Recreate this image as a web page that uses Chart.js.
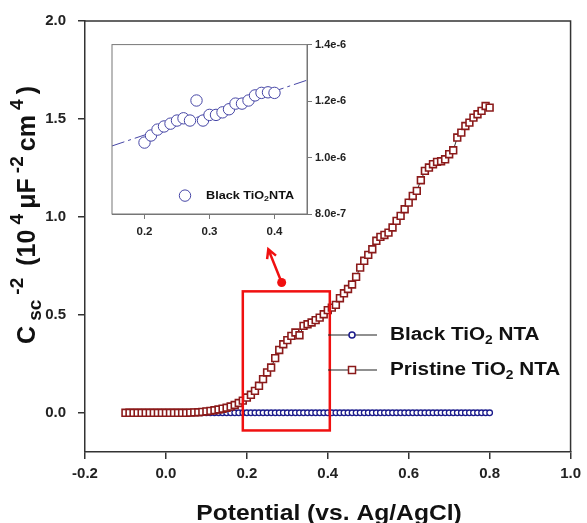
<!DOCTYPE html>
<html>
<head>
<meta charset="utf-8">
<script src="https://cdn.jsdelivr.net/npm/chart.js@4.4.1/dist/chart.umd.min.js"></script>
<style>
body{margin:0;background:#fff;}
#wrap{position:relative;width:587px;height:523px;overflow:hidden;}
#mainChart{position:absolute;left:0;top:0;}
#insetChart{position:absolute;left:100px;top:35px;}
</style>
</head>
<body>
<div id="wrap">
<canvas id="mainChart" width="587" height="523"></canvas>
<canvas id="insetChart" width="250" height="210"></canvas>
</div>
<script>

// ------------------------------
// Data (main plot)
// ------------------------------

const potential = [
-0.10,-0.09,-0.08,-0.07,-0.06,-0.05,-0.04,-0.03,-0.02,-0.01,
0.00,0.01,0.02,0.03,0.04,0.05,0.06,0.07,0.08,0.09,
0.10,0.11,0.12,0.13,0.14,0.15,0.16,0.17,0.18,0.19,
0.20,0.21,0.22,0.23,0.24,0.25,0.26,0.27,0.28,0.29,
0.30,0.31,0.32,0.33,0.34,0.35,0.36,0.37,0.38,0.39,
0.40,0.41,0.42,0.43,0.44,0.45,0.46,0.47,0.48,0.49,
0.50,0.51,0.52,0.53,0.54,0.55,0.56,0.57,0.58,0.59,
0.60,0.61,0.62,0.63,0.64,0.65,0.66,0.67,0.68,0.69,
0.70,0.71,0.72,0.73,0.74,0.75,0.76,0.77,0.78,0.79,
0.80
];

const pristine = [
0,0,0,0,0,0,0,0,0,0,
0,0,0,0,0,0,0.001,0.002,0.003,0.005,
0.007,0.010,0.013,0.017,0.021,0.026,0.032,0.040,0.050,0.062,
0.078,0.092,0.112,0.138,0.172,0.206,0.231,0.279,0.321,0.350,
0.371,0.393,0.410,0.396,0.444,0.452,0.461,0.473,0.486,0.503,
0.524,0.537,0.551,0.585,0.610,0.632,0.655,0.694,0.741,0.776,
0.806,0.835,0.878,0.898,0.908,0.920,0.946,0.980,1.005,1.039,
1.073,1.107,1.133,1.187,1.235,1.252,1.269,1.281,1.284,1.294,
1.320,1.340,1.405,1.430,1.464,1.481,1.507,1.524,1.541,1.566,
1.558
];

const black = [
0,0,0,0,0,0,0,0,0,0,
0,0,0,0,0,0,0,0,0,0,
0,0,0,0,0,0,0,0,0,0,
0,0,0,0,0,0,0,0,0,0,
0,0,0,0,0,0,0,0,0,0,
0,0,0,0,0,0,0,0,0,0,
0,0,0,0,0,0,0,0,0,0,
0,0,0,0,0,0,0,0,0,0,
0,0,0,0,0,0,0,0,0,0,
0
];

const xTicks = [-0.2,0.0,0.2,0.4,0.6,0.8,1.0];
const yTicks = [0.0,0.5,1.0,1.5,2.0];

// zoom box and arrow (data units)
const boxX = [0.19,0.405];
const boxY = [-0.09,0.62];
const arrowX = [0.286,0.253];
const arrowY = [0.665,0.835];

// ------------------------------
// Data (inset)
// ------------------------------

const insetPotential = [
0.20,0.21,0.22,0.23,0.24,0.25,0.26,0.27,0.28,0.29,
0.30,0.31,0.32,0.33,0.34,0.35,0.36,0.37,0.38,0.39,0.40
];

const insetBlack = [
1.053e-6,1.078e-6,1.099e-6,1.110e-6,1.120e-6,1.131e-6,1.139e-6,1.131e-6,1.202e-6,1.131e-6,
1.151e-6,1.151e-6,1.160e-6,1.171e-6,1.191e-6,1.191e-6,1.202e-6,1.220e-6,1.229e-6,1.231e-6,1.229e-6
];

const fitX = [0.15,0.45];
const fitY = [1.041e-6,1.274e-6];

const insetXTicks = [0.2,0.3,0.4];
const insetYTicks = [8.0e-7,1.0e-6,1.2e-6,1.4e-6];

// ------------------------------
// Helpers
// ------------------------------

const FAMILY = "'Liberation Sans', Arial, sans-serif";

function toPoints(xs, ys){
    return xs.map(function(x, i){
        return {x: x, y: ys[i]};
    });
}

// parts: [text, "n" | "sub" | "sup"]
function richWidth(ctx, parts, size, ratio){
    let w = 0;
    parts.forEach(function(p){
        const s = p[1] === "n" ? size : Math.round(size * ratio);
        ctx.font = "bold " + s + "px " + FAMILY;
        w += ctx.measureText(p[0]).width;
    });
    return w;
}

function drawRich(ctx, parts, x, y, size, ratio, gap){
    let cx = x;
    ratio = ratio || 0.68;
    gap = gap || 0;
    parts.forEach(function(p){
        const s = p[1] === "n" ? size : Math.round(size * ratio);
        ctx.font = "bold " + s + "px " + FAMILY;
        let dy = 0;
        if(p[1] === "sub") dy = size * 0.32;
        if(p[1] === "sup") dy = -size * 0.4;
        ctx.fillText(p[0], cx, y + dy);
        cx += ctx.measureText(p[0]).width + gap;
    });
}

// ------------------------------
// Main chart extras
// ------------------------------

const mainExtras = {
    id: "mainExtras",
    afterDatasetsDraw: function(chart){
        const ctx = chart.ctx;
        const xs = chart.scales.x;
        const ys = chart.scales.y;
        const a = chart.chartArea;

        ctx.save();

        // red zoom box
        ctx.strokeStyle = "#f01010";
        ctx.lineWidth = 2.5;
        ctx.strokeRect(
            xs.getPixelForValue(boxX[0]),
            ys.getPixelForValue(boxY[1]),
            xs.getPixelForValue(boxX[1]) - xs.getPixelForValue(boxX[0]),
            ys.getPixelForValue(boxY[0]) - ys.getPixelForValue(boxY[1])
        );

        // arrow
        const x0 = xs.getPixelForValue(arrowX[0]);
        const y0 = ys.getPixelForValue(arrowY[0]);
        const x1 = xs.getPixelForValue(arrowX[1]);
        const y1 = ys.getPixelForValue(arrowY[1]);
        const ang = Math.atan2(y1 - y0, x1 - x0);

        ctx.fillStyle = "#f01010";
        ctx.beginPath();
        ctx.arc(x0, y0, 4.5, 0, Math.PI * 2);
        ctx.fill();

        ctx.beginPath();
        ctx.moveTo(x0, y0);
        ctx.lineTo(x1, y1);
        ctx.moveTo(x1 - 10 * Math.cos(ang - 0.5), y1 - 10 * Math.sin(ang - 0.5));
        ctx.lineTo(x1, y1);
        ctx.lineTo(x1 - 10 * Math.cos(ang + 0.5), y1 - 10 * Math.sin(ang + 0.5));
        ctx.stroke();

        // legend
        const rows = [
            {y: a.top + 314, color: "#1c1c8c", shape: "circle",
             parts: [["Black TiO","n"],["2","sub"],[" NTA","n"]]},
            {y: a.top + 349, color: "#8b1a1a", shape: "rect",
             parts: [["Pristine TiO","n"],["2","sub"],[" NTA","n"]]}
        ];

        rows.forEach(function(r){
            ctx.strokeStyle = "#222";
            ctx.lineWidth = 1.2;
            ctx.beginPath();
            ctx.moveTo(a.left + 243, r.y);
            ctx.lineTo(a.left + 292, r.y);
            ctx.stroke();

            ctx.fillStyle = "#fff";
            ctx.strokeStyle = r.color;
            ctx.lineWidth = 1.5;
            if(r.shape === "circle"){
                ctx.beginPath();
                ctx.arc(a.left + 267, r.y, 3, 0, Math.PI * 2);
                ctx.fill();
                ctx.stroke();
            }else{
                ctx.fillRect(a.left + 263.5, r.y - 3.5, 7, 7);
                ctx.strokeRect(a.left + 263.5, r.y - 3.5, 7, 7);
            }

            ctx.save();
            ctx.fillStyle = "#111";
            ctx.textBaseline = "middle";
            ctx.textAlign = "left";
            ctx.translate(a.left + 305, r.y);
            ctx.scale(1.15, 1);
            drawRich(ctx, r.parts, 0, 0, 18, 0.68, 0);
            ctx.restore();
        });

        ctx.restore();
    },
    afterDraw: function(chart){
        const ctx = chart.ctx;
        const a = chart.chartArea;

        ctx.save();

        // frame (top and right)
        ctx.strokeStyle = "#333";
        ctx.lineWidth = 1.5;
        ctx.beginPath();
        ctx.moveTo(a.left, a.top);
        ctx.lineTo(a.right, a.top);
        ctx.lineTo(a.right, a.bottom);
        ctx.stroke();

        ctx.fillStyle = "#111";

        // x title
        ctx.save();
        ctx.font = "bold 22px " + FAMILY;
        ctx.textAlign = "center";
        ctx.textBaseline = "alphabetic";
        ctx.translate(329, 520);
        ctx.scale(1.12, 1);
        ctx.fillText("Potential (vs. Ag/AgCl)", 0, 0);
        ctx.restore();

        // y title
        const yParts = [
            ["C","n"],["sc","sub"],["-2","sup"],[" (10","n"],["4","sup"],
            ["\u03bcF","n"],["-2","sup"],["cm","n"],["4","sup"],[")","n"]
        ];
        ctx.textAlign = "left";
        ctx.textBaseline = "middle";
        const target = 258;
        const w = richWidth(ctx, yParts, 25, 0.76);
        const gap = Math.max(0, (target - w) / (yParts.length - 1));
        ctx.translate(28, 215);
        ctx.rotate(-Math.PI / 2);
        drawRich(ctx, yParts, -target / 2, 0, 25, 0.76, gap);

        ctx.restore();
    }
};

// ------------------------------
// Main chart
// ------------------------------

new Chart(document.getElementById("mainChart"), {

    type: "line",

    data: {
        datasets: [{
            label: "Pristine TiO2 NTA",
            data: toPoints(potential, pristine),
            borderColor: "#333",
            borderWidth: 1,
            pointStyle: "rect",
            pointRadius: 4.8,
            pointBackgroundColor: "#fff",
            pointBorderColor: "#8b1a1a",
            pointBorderWidth: 1.6,
            tension: 0
        },{
            label: "Black TiO2 NTA",
            data: toPoints(potential, black),
            borderColor: "#333",
            borderWidth: 1,
            pointStyle: "circle",
            pointRadius: 2.8,
            pointBackgroundColor: "#fff",
            pointBorderColor: "#1c1c8c",
            pointBorderWidth: 1.3,
            tension: 0
        }]
    },

    options: {
        responsive: false,
        animation: false,
        layout: {padding: {left: 0, top: 20, right: 13, bottom: 0}},
        plugins: {
            legend: {display: false},
            tooltip: {enabled: false}
        },
        scales: {
            x: {
                type: "linear",
                min: -0.2,
                max: 1.0,
                afterBuildTicks: function(s){
                    s.ticks = xTicks.map(function(v){ return {value: v}; });
                },
                afterFit: function(s){ s.height = 71; },
                ticks: {
                    padding: 6,
                    color: "#222",
                    font: {family: FAMILY, size: 15, weight: "bold"},
                    callback: function(v){ return v.toFixed(1); }
                },
                grid: {drawOnChartArea: false, tickLength: 7, color: "#333", lineWidth: 1.5},
                border: {color: "#333", width: 1.5}
            },
            y: {
                type: "linear",
                min: -0.2,
                max: 2.0,
                afterBuildTicks: function(s){
                    s.ticks = yTicks.map(function(v){ return {value: v}; });
                },
                afterFit: function(s){ s.width = 85; },
                ticks: {
                    padding: 12,
                    color: "#222",
                    font: {family: FAMILY, size: 15, weight: "bold"},
                    callback: function(v){ return v.toFixed(1); }
                },
                grid: {drawOnChartArea: false, tickLength: 7, color: "#333", lineWidth: 1.5},
                border: {color: "#333", width: 1.5}
            }
        }
    },

    plugins: [mainExtras]

});

// ------------------------------
// Inset extras
// ------------------------------

const insetBlue = "#4646a6";

const insetExtras = {
    id: "insetExtras",
    beforeDatasetsDraw: function(chart){
        const ctx = chart.ctx;
        const a = chart.chartArea;
        ctx.save();
        ctx.fillStyle = "#fff";
        ctx.fillRect(a.left, a.top, a.right - a.left, a.bottom - a.top);
        ctx.restore();
    },
    afterDraw: function(chart){
        const ctx = chart.ctx;
        const a = chart.chartArea;

        ctx.save();

        ctx.strokeStyle = "#777";
        ctx.lineWidth = 1;
        ctx.strokeRect(a.left, a.top, a.right - a.left, a.bottom - a.top);

        // legend
        ctx.fillStyle = "#fff";
        ctx.strokeStyle = insetBlue;
        ctx.beginPath();
        ctx.arc(a.left + 73, a.top + 151, 5.7, 0, Math.PI * 2);
        ctx.fill();
        ctx.stroke();

        ctx.fillStyle = "#111";
        ctx.textBaseline = "middle";
        ctx.textAlign = "left";
        ctx.translate(a.left + 94, a.top + 151);
        ctx.scale(1.1, 1);
        drawRich(ctx, [["Black TiO","n"],["2","sub"],["NTA","n"]], 0, 0, 11.5, 0.68, 0);

        ctx.restore();
    }
};

// ------------------------------
// Inset chart
// ------------------------------

new Chart(document.getElementById("insetChart"), {

    type: "line",

    data: {
        datasets: [{
            label: "Black TiO2NTA",
            data: toPoints(insetPotential, insetBlack),
            showLine: false,
            pointStyle: "circle",
            pointRadius: 5.7,
            pointBackgroundColor: "#fff",
            pointBorderColor: insetBlue,
            pointBorderWidth: 1
        },{
            label: "fit",
            data: toPoints(fitX, fitY),
            borderColor: insetBlue,
            borderWidth: 1,
            borderDash: [13, 4, 3, 4],
            pointRadius: 0
        }]
    },

    options: {
        responsive: false,
        animation: false,
        layout: {padding: {left: 12, top: 8, right: 0, bottom: 0}},
        plugins: {
            legend: {display: false},
            tooltip: {enabled: false}
        },
        scales: {
            x: {
                type: "linear",
                min: 0.15,
                max: 0.45,
                afterBuildTicks: function(s){
                    s.ticks = insetXTicks.map(function(v){ return {value: v}; });
                },
                afterFit: function(s){ s.height = 31; },
                ticks: {
                    padding: 6,
                    color: "#222",
                    font: {family: FAMILY, size: 11.5, weight: "bold"},
                    callback: function(v){ return v.toFixed(1); }
                },
                grid: {drawOnChartArea: false, tickLength: 5, color: "#777"},
                border: {color: "#777", width: 1}
            },
            y: {
                type: "linear",
                position: "right",
                min: 8.0e-7,
                max: 1.4e-6,
                afterBuildTicks: function(s){
                    s.ticks = insetYTicks.map(function(v){ return {value: v}; });
                },
                afterFit: function(s){ s.width = 43; },
                ticks: {
                    padding: 3,
                    color: "#222",
                    font: {family: FAMILY, size: 11, weight: "bold"},
                    callback: function(v){ return v.toExponential(1); }
                },
                grid: {drawOnChartArea: false, tickLength: 5, color: "#777"},
                border: {color: "#777", width: 1}
            }
        }
    },

    plugins: [insetExtras]

});

</script>
</body>
</html>
